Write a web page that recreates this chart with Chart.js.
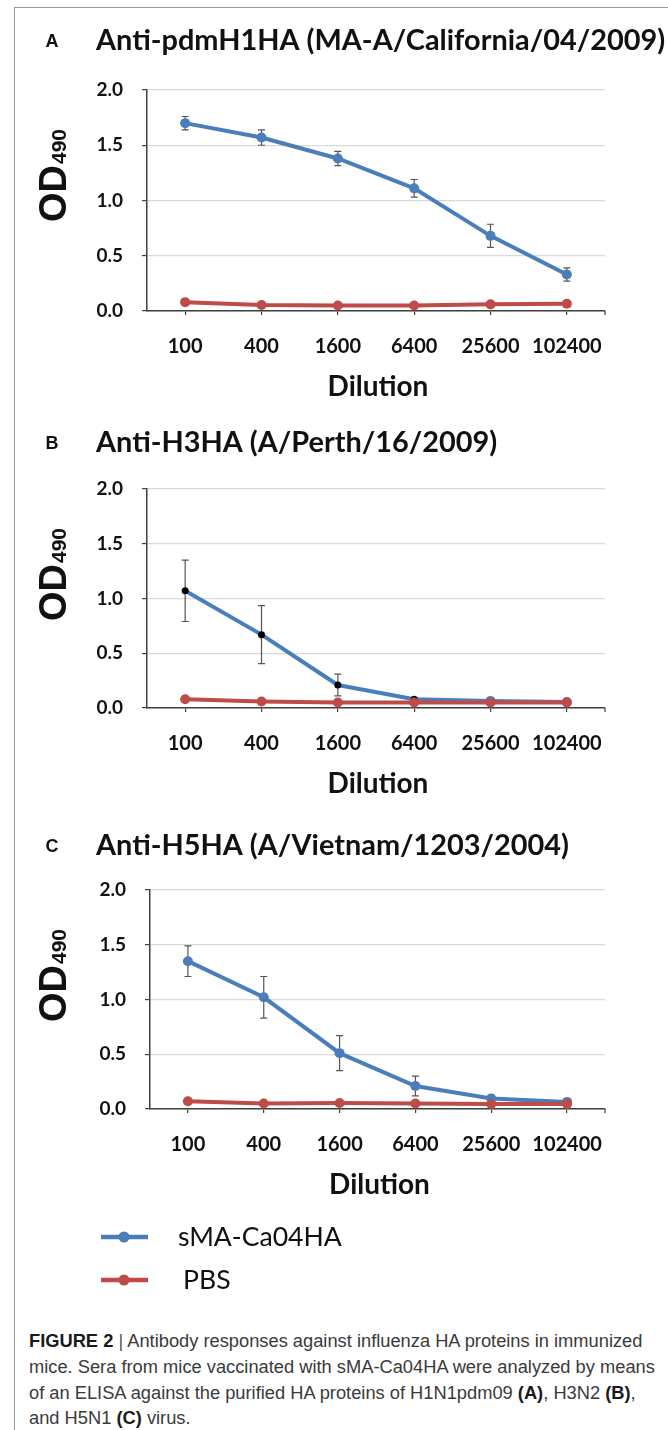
<!DOCTYPE html>
<html>
<head>
<meta charset="utf-8">
<script src="https://cdn.jsdelivr.net/npm/chart.js@4.4.0/dist/chart.umd.min.js"></script>
<style>
body { margin: 0; background: #fff; width: 668px; height: 1430px; overflow: hidden; position: relative; }
#frame { position: absolute; left: 14px; top: 7px; width: 720px; height: 1500px; border: 1px solid #9a9a9a; }
canvas.panel { position: absolute; left: 0; }
.capline { position: absolute; left: 29px; white-space: nowrap; font-family: "Liberation Sans", Arial, sans-serif; color: #3a3a3a; line-height: 1; }
.capline b { color: #1a1a1a; }
</style>
</head>
<body>
<div id="frame"></div>
<canvas id="chartA" class="panel" width="668" height="400" style="top:0px"></canvas>
<canvas id="chartB" class="panel" width="668" height="400" style="top:400px"></canvas>
<canvas id="chartC" class="panel" width="668" height="520" style="top:800px"></canvas>

<div class="capline" style="top:1332px"><b>FIGURE 2</b> <span style="color:#555">|</span> Antibody responses against influenza HA proteins in immunized</div>
<div class="capline" style="top:1358px">mice. Sera from mice vaccinated with sMA-Ca04HA were analyzed by means</div>
<div class="capline" style="top:1384px">of an ELISA against the purified HA proteins of H1N1pdm09 <b>(A)</b>, H3N2 <b>(B)</b>,</div>
<div class="capline" style="top:1409px">and H5N1 <b>(C)</b> virus.</div>

<script>
// dilution series on the x axis
var dilutions = ['100', '400', '1600', '6400', '25600', '102400'];
var seriesNames = ['sMA-Ca04HA', 'PBS'];

// panel A: anti-pdmH1HA
var ca04A    = [1.70, 1.57, 1.38, 1.11, 0.68, 0.33];
var ca04AErr = [0.06, 0.07, 0.065, 0.08, 0.105, 0.06];
var pbsA     = [0.08, 0.055, 0.05, 0.05, 0.06, 0.065];
var pbsAErr  = [0.02, 0.01, 0.01, 0.01, 0.025, 0.025];

// panel B: anti-H3HA
var ca04B    = [1.07, 0.67, 0.21, 0.08, 0.065, 0.055];
var ca04BErr = [0.28, 0.265, 0.10, 0.01, 0.01, 0.01];
var pbsB     = [0.08, 0.06, 0.05, 0.05, 0.05, 0.05];
var pbsBErr  = [0.01, 0.01, 0.01, 0.01, 0.01, 0.01];

// panel C: anti-H5HA
var ca04C    = [1.35, 1.02, 0.51, 0.21, 0.095, 0.065];
var ca04CErr = [0.14, 0.19, 0.16, 0.09, 0.03, 0.01];
var pbsC     = [0.07, 0.05, 0.055, 0.05, 0.046, 0.046];
var pbsCErr  = [0.01, 0.01, 0.01, 0.01, 0.01, 0.01];

var BLUE = '#4a7ebb';
var RED = '#be4b48';
var AXIS = '#404040';
var GRID = '#d9d9d9';
var INK = '#111';
var PLOT_RIGHT = 605;

var panels = [
    { id: 'chartA', letter: 'A', title: 'Anti-pdmH1HA (MA-A/California/04/2009)',
      blue: ca04A, blueErr: ca04AErr, red: pbsA, redErr: pbsAErr,
      titleY: 41, plotTop: 90, plotBottom: 311, plotLeft: 147 },
    { id: 'chartB', letter: 'B', title: 'Anti-H3HA (A/Perth/16/2009)',
      blue: ca04B, blueErr: ca04BErr, red: pbsB, redErr: pbsBErr,
      blueDots: ['#000', '#000', '#000', '#000', BLUE, BLUE], blueRadius: [3.5, 3.5, 3.5, 3.5, 5, 5],
      titleY: 43, plotTop: 89, plotBottom: 308, plotLeft: 147 },
    { id: 'chartC', letter: 'C', title: 'Anti-H5HA (A/Vietnam/1203/2004)',
      blue: ca04C, blueErr: ca04CErr, red: pbsC, redErr: pbsCErr,
      titleY: 46, plotTop: 90, plotBottom: 309, plotLeft: 150, legend: [437, 480] }
];

// title font size fitted so panel A title spans like the original
var measureCtx = document.createElement('canvas').getContext('2d');
function fitSize(text, weight, family, target) {
    measureCtx.font = weight + ' 40px ' + family;
    return 40 * target / measureCtx.measureText(text).width;
}
var titleSize = fitSize(panels[0].title, 'bold', 'Lato', 569);
var legendSize = fitSize(seriesNames[0], 'normal', 'Lato', 164);

var errorBars = {
    id: 'errorBars',
    beforeDatasetsDraw: function (chart) {
        var ctx = chart.ctx, y = chart.scales.y;
        ctx.save();
        ctx.strokeStyle = '#555';
        ctx.lineWidth = 1.2;
        chart.data.datasets.forEach(function (ds, i) {
            var meta = chart.getDatasetMeta(i);
            meta.data.forEach(function (pt, j) {
                var e = ds.errors[j];
                if (!e) return;
                var top = y.getPixelForValue(ds.data[j] + e);
                var bot = y.getPixelForValue(ds.data[j] - e);
                ctx.beginPath();
                ctx.moveTo(pt.x, top); ctx.lineTo(pt.x, bot);
                ctx.moveTo(pt.x - 3.5, top); ctx.lineTo(pt.x + 3.5, top);
                ctx.moveTo(pt.x - 3.5, bot); ctx.lineTo(pt.x + 3.5, bot);
                ctx.stroke();
            });
        });
        ctx.restore();
    }
};

var decorations = {
    id: 'decorations',
    afterDraw: function (chart) {
        var p = chart.options.panel;
        var ctx = chart.ctx, area = chart.chartArea;
        ctx.save();
        ctx.fillStyle = INK;

        // panel letter and title
        ctx.textBaseline = 'middle';
        ctx.textAlign = 'center';
        ctx.font = 'bold 18px "Liberation Sans"';
        ctx.fillText(p.letter, 52, p.titleY + 1);
        ctx.textAlign = 'left';
        ctx.font = 'bold ' + titleSize.toFixed(1) + 'px Lato';
        ctx.fillText(p.title, 96, p.titleY);

        // x axis title
        ctx.textAlign = 'center';
        ctx.font = 'bold 28px Lato';
        ctx.fillText('Dilution', (area.left + area.right) / 2 + 2, area.bottom + 76);

        // y axis title OD490, rotated
        ctx.save();
        ctx.translate(66, area.top + 86);
        ctx.rotate(-Math.PI / 2);
        ctx.textBaseline = 'alphabetic';
        ctx.textAlign = 'left';
        ctx.font = 'bold 38px "Liberation Sans"';
        var w1 = ctx.measureText('OD').width;
        ctx.font = 'bold 21px "Liberation Sans"';
        var w2 = ctx.measureText('490').width;
        var x0 = -(w1 + w2) / 2;
        ctx.font = 'bold 38px "Liberation Sans"';
        ctx.fillText('OD', x0, 0);
        ctx.font = 'bold 21px "Liberation Sans"';
        ctx.fillText('490', x0 + w1 + 1, 0);
        ctx.restore();

        // closing tick at the right end of the x axis
        ctx.strokeStyle = AXIS;
        ctx.lineWidth = 1.2;
        ctx.beginPath();
        ctx.moveTo(area.right, area.bottom);
        ctx.lineTo(area.right, area.bottom + 4);
        ctx.stroke();

        // legend under panel C
        if (p.legend) {
            chart.data.datasets.forEach(function (ds, i) {
                var ly = p.legend[i];
                ctx.strokeStyle = ds.borderColor;
                ctx.lineWidth = 4.5;
                ctx.beginPath();
                ctx.moveTo(101, ly); ctx.lineTo(148, ly);
                ctx.stroke();
                ctx.fillStyle = ds.borderColor;
                ctx.beginPath();
                ctx.arc(124, ly, 5.5, 0, Math.PI * 2);
                ctx.fill();
                ctx.fillStyle = INK;
                ctx.textAlign = 'left';
                ctx.textBaseline = 'middle';
                ctx.font = legendSize.toFixed(1) + 'px Lato';
                ctx.fillText(ds.label, i === 0 ? 178 : 183, ly);
            });
        }
        ctx.restore();
    }
};

function makeChart(p) {
    var canvas = document.getElementById(p.id);
    var h = canvas.height;
    return new Chart(canvas, {
        type: 'line',
        data: {
            labels: dilutions,
            datasets: [{
                label: seriesNames[0],
                data: p.blue,
                errors: p.blueErr,
                borderColor: BLUE,
                backgroundColor: BLUE,
                pointBackgroundColor: p.blueDots || BLUE,
                pointRadius: p.blueRadius || 5,
                pointBorderWidth: 0,
                borderWidth: 4,
                tension: 0,
                order: 2
            }, {
                label: seriesNames[1],
                data: p.red,
                errors: p.redErr,
                borderColor: RED,
                backgroundColor: RED,
                pointBackgroundColor: RED,
                pointRadius: 5,
                pointBorderWidth: 0,
                borderWidth: 4,
                tension: 0,
                order: 1
            }]
        },
        options: {
            panel: p,
            responsive: false,
            animation: false,
            devicePixelRatio: 1,
            layout: { padding: { top: p.plotTop, right: 668 - PLOT_RIGHT, left: 0, bottom: 0 } },
            plugins: {
                legend: { display: false },
                tooltip: { enabled: false },
                title: { display: false }
            },
            scales: {
                x: {
                    offset: true,
                    grid: { drawOnChartArea: false, offset: false, tickLength: 4, tickColor: AXIS, lineWidth: 1.2 },
                    border: { color: AXIS, width: 1.5 },
                    ticks: { font: { family: 'Lato', weight: 'bold', size: 20 }, color: INK, padding: 20, maxRotation: 0, autoSkip: false },
                    afterFit: function (s) { s.height = h - p.plotBottom; }
                },
                y: {
                    min: 0,
                    max: 2,
                    grid: { color: GRID, tickColor: AXIS, tickLength: 5, lineWidth: 1.2 },
                    border: { color: AXIS, width: 1.5 },
                    ticks: {
                        stepSize: 0.5,
                        font: { family: 'Lato', weight: 'bold', size: 19 },
                        color: INK,
                        padding: 19,
                        callback: function (v) { return v.toFixed(1); }
                    },
                    afterFit: function (s) { s.width = p.plotLeft; }
                }
            }
        },
        plugins: [errorBars, decorations]
    });
}

panels.forEach(makeChart);

// caption: fit the first line to the width it has in the figure
var lines = document.querySelectorAll('.capline');
lines.forEach(function (el) { el.style.fontSize = '16px'; });
var w = lines[0].getBoundingClientRect().width;
var capSize = 16 * 614 / w;
lines.forEach(function (el) { el.style.fontSize = capSize.toFixed(2) + 'px'; });
</script>
</body>
</html>
